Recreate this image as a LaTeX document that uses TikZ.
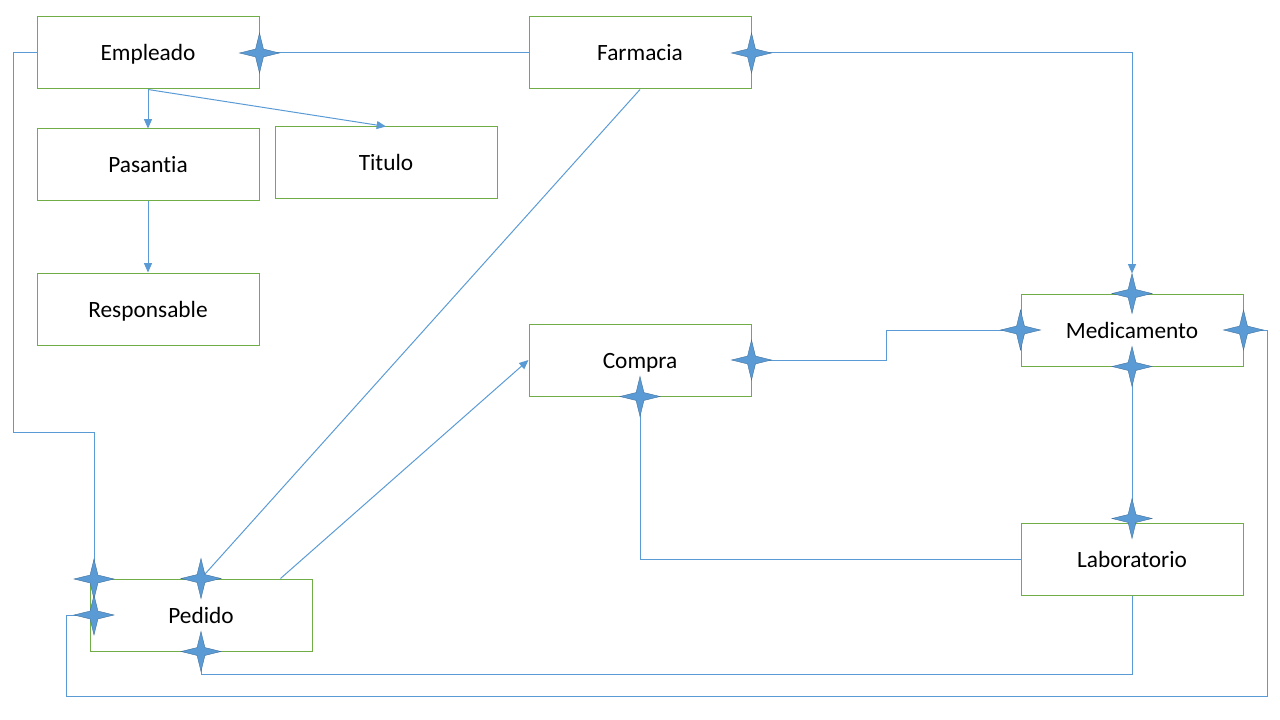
\documentclass[tikz,border=0pt]{standalone}
\usepackage{fontspec}
\setmainfont[Ligatures={NoCommon}]{Carlito}
\usetikzlibrary{shapes.geometric,arrows.meta}
\definecolor{lineblue}{HTML}{5B9BD5}
\definecolor{stardark}{HTML}{41719C}
\definecolor{boxgreen}{HTML}{70AD47}
\begin{document}
\begin{tikzpicture}[x=0.75pt,y=-0.75pt,
  box/.style={draw=boxgreen,line width=0.75pt,fill=white,minimum width=166.5pt,minimum height=54pt,inner sep=0pt,text height=14pt,text depth=2pt,font=\fontsize{17.5}{21}\selectfont},
  conn/.style={draw=lineblue,line width=0.75pt},
  arr/.style={conn,-{Triangle[length=7pt,width=6pt]}},
  starmark/.style={star,star points=4,star point ratio=3.6,minimum size=30pt,inner sep=0pt,fill=lineblue,draw=stardark,line width=0.3pt}]
\useasboundingbox (0,0) rectangle (1280,720);
% boxes
\node[box] (emp) at (148,53) {Empleado};
\node[box] (far) at (640,53) {Farmacia};
\node[box] (pas) at (148,165) {Pasantia};
\node[box] (tit) at (386,163) {Titulo};
\node[box] (res) at (148,309) {Responsable};
\node[box] (com) at (640,360) {Compra};
\node[box] (med) at (1132,330) {Medicamento};
\node[box] (lab) at (1132,559) {Laboratorio};
\node[box] (ped) at (201,615) {Pedido};
% helper coordinates
\coordinate (pedTL) at (94,579);
\coordinate (pedL) at (94,615);
% connectors
\draw[conn] (far.west) -- (emp.east);
\draw[arr,shorten >=15pt] (far.east) -| (med.north);
\draw[arr] (emp.south) -- (pas.north);
\draw[arr] (emp.south) -- (tit.north);
\draw[arr] (pas.south) -- (res.north);
\draw[conn] (emp.west) -| (13,432) -| (pedTL);
\draw[conn] (far.south) -- (ped.north);
\draw[arr] ([xshift=-24pt]ped.north east) -- (com.west);
\draw[conn] (com.east) -| (886,330) -- (med.west);
\draw[conn] (med.south) -- (lab.north);
\draw[conn] (lab.west) -| (com.south);
\draw[conn] (lab.south) |- (201,674) -- (ped.south);
\draw[conn] (med.east) -| (1267,696) -| (66,615) -- (ped.west);
% star markers
\node[starmark] (sEmp) at (emp.east) {};
\node[starmark] (sFar) at (far.east) {};
\node[starmark] (sMedT) at (med.north) {};
\node[starmark] (sMedL) at (med.west) {};
\node[starmark] (sMedR) at (med.east) {};
\node[starmark] (sMedB) at (med.south) {};
\node[starmark] (sComR) at (com.east) {};
\node[starmark] (sComB) at (com.south) {};
\node[starmark] (sLabT) at ([yshift=3pt]lab.north) {};
\node[starmark] (sPedTL) at (pedTL) {};
\node[starmark] (sPedT) at (ped.north) {};
\node[starmark] (sPedL) at (pedL) {};
\node[starmark] (sPedB) at (ped.south) {};
\end{tikzpicture}
\end{document}
